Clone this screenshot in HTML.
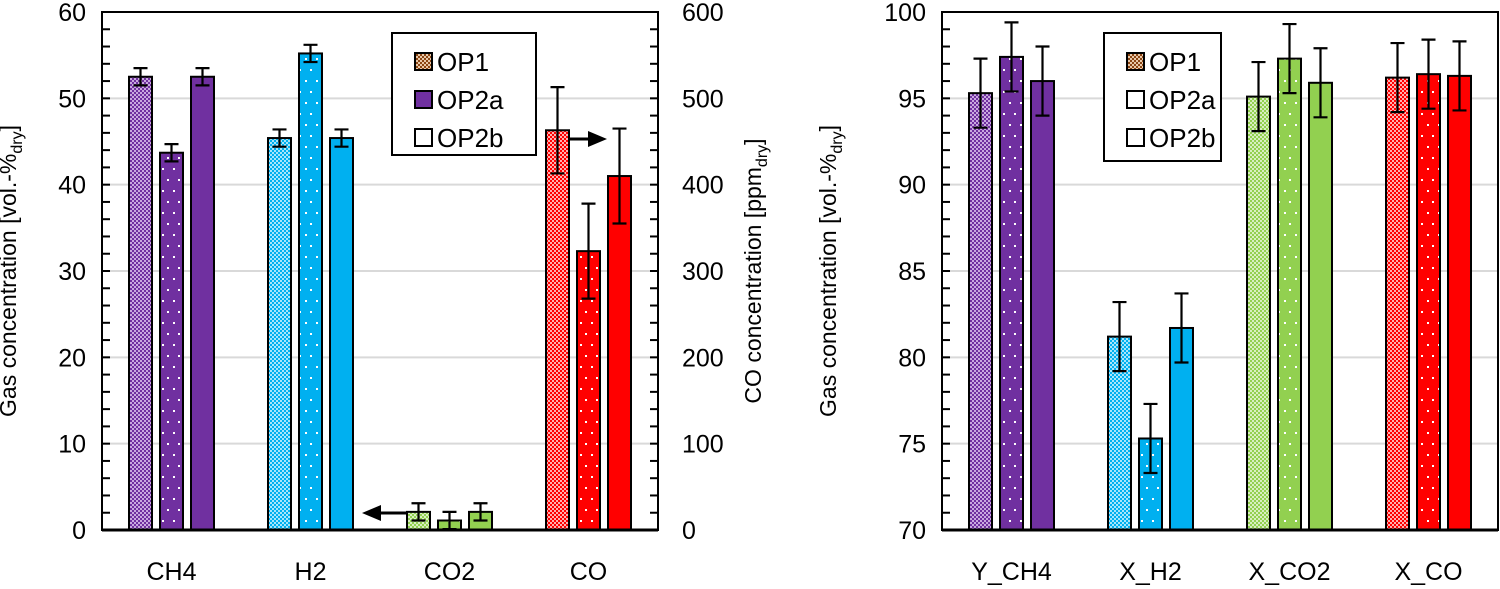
<!DOCTYPE html>
<html><head><meta charset="utf-8"><style>
html,body{margin:0;padding:0;background:#fff;}
svg{display:block;font-family:"Liberation Sans",sans-serif;}
</style></head><body>
<svg id="c" width="1500" height="589" viewBox="0 0 1500 589" xmlns="http://www.w3.org/2000/svg">
<defs>
<pattern id="chk-purple" width="4" height="4" patternUnits="userSpaceOnUse"><rect width="4" height="4" fill="#7030a0"/><rect width="2" height="2" fill="#c9a8e0"/><rect x="2" y="2" width="2" height="2" fill="#c9a8e0"/></pattern>
<pattern id="chk-blue" width="4" height="4" patternUnits="userSpaceOnUse"><rect width="4" height="4" fill="#00b0f0"/><rect width="2" height="2" fill="#a8e6fb"/><rect x="2" y="2" width="2" height="2" fill="#a8e6fb"/></pattern>
<pattern id="chk-green" width="4" height="4" patternUnits="userSpaceOnUse"><rect width="4" height="4" fill="#92d050"/><rect width="2" height="2" fill="#d8efc0"/><rect x="2" y="2" width="2" height="2" fill="#d8efc0"/></pattern>
<pattern id="chk-red" width="4" height="4" patternUnits="userSpaceOnUse"><rect width="4" height="4" fill="#ff0000"/><rect width="2" height="2" fill="#ffb0b0"/><rect x="2" y="2" width="2" height="2" fill="#ffb0b0"/></pattern>
<pattern id="chk-brown" width="4" height="4" patternUnits="userSpaceOnUse"><rect width="4" height="4" fill="#8b4513"/><rect width="2" height="2" fill="#e8c8a8"/><rect x="2" y="2" width="2" height="2" fill="#e8c8a8"/></pattern>
<pattern id="dot-purple" width="11" height="22" patternUnits="userSpaceOnUse"><rect width="11" height="22" fill="#7030a0"/><rect x="2" y="3" width="2" height="2" fill="#fff"/><rect x="8" y="14" width="2" height="2" fill="#fff"/></pattern>
<pattern id="dot-blue" width="11" height="22" patternUnits="userSpaceOnUse"><rect width="11" height="22" fill="#00b0f0"/><rect x="2" y="3" width="2" height="2" fill="#fff"/><rect x="8" y="14" width="2" height="2" fill="#fff"/></pattern>
<pattern id="dot-green" width="11" height="22" patternUnits="userSpaceOnUse"><rect width="11" height="22" fill="#92d050"/><rect x="2" y="3" width="2" height="2" fill="#fff"/><rect x="8" y="14" width="2" height="2" fill="#fff"/></pattern>
<pattern id="dot-red" width="11" height="22" patternUnits="userSpaceOnUse"><rect width="11" height="22" fill="#ff0000"/><rect x="2" y="3" width="2" height="2" fill="#fff"/><rect x="8" y="14" width="2" height="2" fill="#fff"/></pattern>
</defs>
</svg>
<script>
// Left chart data
const leftCategories = ["CH4", "H2", "CO2", "CO"];
const leftOP1 = [52.5, 45.4, 2.1, 463];
const leftOP2a = [43.7, 55.2, 1.1, 323];
const leftOP2b = [52.5, 45.4, 2.1, 410];
const leftErr1 = [1, 1, 1, 50];
const leftErr2a = [1, 1, 1, 55];
const leftErr2b = [1, 1, 1, 55];
const leftUsesRightAxis = [false, false, false, true];
const leftTicks = ["0","10","20","30","40","50","60"];
const leftRightTicks = ["0","100","200","300","400","500","600"];
// Right chart data
const rightCategories = ["Y_CH4", "X_H2", "X_CO2", "X_CO"];
const rightOP1 = [95.3, 81.2, 95.1, 96.2];
const rightOP2a = [97.4, 75.3, 97.3, 96.4];
const rightOP2b = [96.0, 81.7, 95.9, 96.3];
const rightErr1 = [2, 2, 2, 2];
const rightErr2a = [2, 2, 2, 2];
const rightErr2b = [2, 2, 2, 2];
const rightTicks = ["70","75","80","85","90","95","100"];
const legendLabels = ["OP1", "OP2a", "OP2b"];

const colors = ["purple","blue","green","red"];
const svg = document.getElementById('c');
const NS = "http://www.w3.org/2000/svg";
function mk(tag, attrs, parent){
  const e = document.createElementNS(NS, tag);
  for (const k in attrs) e.setAttribute(k, attrs[k]);
  (parent||svg).appendChild(e);
  return e;
}
const TOP = 12, BOT = 530;

function drawChart(cfg){
  const g = mk('g', {});
  
  
  const yL = v => BOT - (v - cfg.min) / (cfg.max - cfg.min) * (BOT - TOP);
  const yR = v => BOT - v / 600 * (BOT - TOP);
  const band = (cfg.x1 - cfg.x0) / cfg.cats.length;
  const xc = i => cfg.x0 + band * (i + 0.5);
  cfg.ticks.forEach(t => {
    const v = parseFloat(t);
    if (v !== cfg.min) {
      const l = mk('line', {x1:cfg.x0, x2:cfg.x1, y1:yL(v), y2:yL(v), stroke:'#d9d9d9', 'stroke-width':2}, g);
      
      
    }
  });
  const series = [cfg.s1, cfg.s2a, cfg.s2b];
  const errs = [cfg.e1, cfg.e2a, cfg.e2b];
  const pfx = ['chk-','dot-',''];
  const off = [-31, 0, 31];
  cfg.cats.forEach((c, i) => {
    const sc = cfg.rightAxis && cfg.rightAxis[i] ? yR : yL;
    series.forEach((s, k) => {
      const col = colors[i];
      const fill = k === 2 ? {purple:'#7030a0',blue:'#00b0f0',green:'#92d050',red:'#ff0000'}[col] : 'url(#' + pfx[k] + col + ')';
      const cx = xc(i) + off[k];
      const base = sc === yR ? yR(0) : yL(cfg.min);
      const top = sc(s[i]);
      const r = mk('rect', {x:cx-11.5, y:top, width:23, height:base-top, fill:fill, stroke:'#000', 'stroke-width':2}, g);
      
      
      const e = errs[k][i];
      const eg = mk('path', {d:`M${cx},${sc(s[i]+e)}V${sc(s[i]-e)}M${cx-7},${sc(s[i]+e)}H${cx+7}M${cx-7},${sc(s[i]-e)}H${cx+7}`, stroke:'#000', 'stroke-width':2.2, fill:'none'}, g);
      
      
    });
    const t = mk('text', {x:xc(i), y:580, 'font-size':25, 'text-anchor':'middle'}, g);
    t.textContent = c;
    
    
  });
  const f = mk('rect', {x:cfg.x0, y:TOP, width:cfg.x1-cfg.x0, height:BOT-TOP, fill:'none', stroke:'#000', 'stroke-width':2}, g);
  
  
  mk('line', {x1:cfg.x0, x2:cfg.x1, y1:BOT, y2:BOT, stroke:'#000', 'stroke-width':3}, g);
  const step = cfg.minor;
  for (let v = cfg.min; v <= cfg.max + 1e-9; v += step) {
    mk('line', {x1:cfg.x0, x2:cfg.x0+8, y1:yL(v), y2:yL(v), stroke:'#000', 'stroke-width':2}, g);
    if (cfg.rightTicks) mk('line', {x1:cfg.x1-8, x2:cfg.x1, y1:yL(v), y2:yL(v), stroke:'#000', 'stroke-width':2}, g);
  }
  cfg.ticks.forEach(t => {
    const tx = mk('text', {x:cfg.x0-16, y:yL(parseFloat(t))+9, 'font-size':25, 'text-anchor':'end'}, g);
    tx.textContent = t;
    
    
  });
  if (cfg.rightTicks) cfg.rightTicks.forEach(t => {
    const tx = mk('text', {x:cfg.x1+24, y:yR(parseFloat(t))+9, 'font-size':25, 'text-anchor':'start'}, g);
    tx.textContent = t;
    
    
  });
  const yt = mk('text', {x:0, y:0, 'font-size':23, 'text-anchor':'middle', transform:`translate(${cfg.titleX},${(TOP+BOT)/2}) rotate(-90)`}, g);
  yt.innerHTML = 'Gas concentration [vol.-%<tspan font-size="16" dy="6">dry</tspan><tspan dy="-6">]</tspan>';
  
  
  if (cfg.rightTicks) {
    const yt2 = mk('text', {x:0, y:0, 'font-size':23, 'text-anchor':'middle', transform:`translate(${cfg.x1+103},${(TOP+BOT)/2}) rotate(-90)`}, g);
    yt2.innerHTML = 'CO concentration [ppm<tspan font-size="16" dy="6">dry</tspan><tspan dy="-6">]</tspan>';
    
    
  }
  const L = cfg.legend;
  const lg = mk('g', {}, g);
  
  
  mk('rect', {x:L.x, y:L.y, width:L.w, height:L.h, fill:'#fff', stroke:'#000', 'stroke-width':2}, lg);
  const sw = ['url(#chk-brown)', L.fill2, '#fff'];
  legendLabels.forEach((lab, k) => {
    const yy = L.y + 20 + k * 38;
    const e = mk('g', {}, lg);
    
    
    mk('rect', {x:L.x+23, y:yy, width:17, height:17, fill:sw[k], stroke:'#000', 'stroke-width':2}, e);
    const t = mk('text', {x:L.x+45, y:yy+18, 'font-size':26}, e);
    t.textContent = lab;
  });
  return {yL, yR, xc};
}

drawChart({name:'left-chart', x0:102, x1:658, min:0, max:60, minor:2, ticks:leftTicks, rightTicks:leftRightTicks,
  cats:leftCategories, s1:leftOP1, s2a:leftOP2a, s2b:leftOP2b, e1:leftErr1, e2a:leftErr2a, e2b:leftErr2b, rightAxis:leftUsesRightAxis,
  titleX:16, legend:{x:392, y:33, w:144, h:122, fill2:'#7030a0'}});
drawChart({name:'right-chart', x0:942, x1:1498, min:70, max:100, minor:1, ticks:rightTicks,
  cats:rightCategories, s1:rightOP1, s2a:rightOP2a, s2b:rightOP2b, e1:rightErr1, e2a:rightErr2a, e2b:rightErr2b,
  titleX:836, legend:{x:1104, y:33, w:117, h:128, fill2:'#fff'}});

const a1 = mk('path', {d:'M406,513H378', stroke:'#000', 'stroke-width':3});


mk('polygon', {points:'362,513 381,505 381,521', fill:'#000'});
const a2 = mk('path', {d:'M569,139H592', stroke:'#000', 'stroke-width':3});


mk('polygon', {points:'607,139 588,131 588,147', fill:'#000'});
</script>
</body></html>
